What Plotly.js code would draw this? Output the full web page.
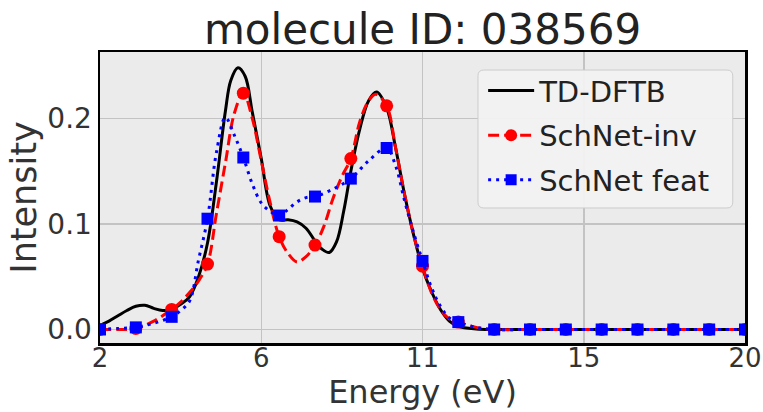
<!DOCTYPE html>
<html>
<head>
<meta charset="utf-8">
<script src="https://cdn.plot.ly/plotly-3.0.1.min.js"></script>
<style>
  html, body { margin: 0; padding: 0; background: #ffffff; }
  #chart { width: 763px; height: 412px; }
</style>
</head>
<body>
<div id="chart"></div>
<script>
// ---- Data ----
const titleText = "molecule ID: 038569";
const seriesNames = ["TD-DFTB", "SchNet-inv", "SchNet feat"];

// x tick positions and their printed labels
const xTickVals = [2, 6.5, 11, 15.5, 20];
const xTickText = ["2", "6", "11", "15", "20"];
const yTickVals = [0, 0.1, 0.2];
const yTickText = ["0.0", "0.1", "0.2"];

// TD-DFTB reference spectrum (smooth curve)
const tddftbX = [2.0, 2.25, 2.5, 2.75, 3.0, 3.25, 3.5, 3.75, 4.0, 4.25, 4.5, 4.75, 5.0, 5.25, 5.5, 5.65, 5.85, 6.05, 6.25, 6.5, 6.75, 7.0, 7.25, 7.5, 7.75, 8.0, 8.2, 8.4, 8.6, 8.8, 9.0, 9.25, 9.5, 9.72, 10.0, 10.25, 10.5, 10.75, 11.0, 11.25, 11.5, 11.75, 12.0, 12.5, 13, 14, 15, 16, 17, 18, 19, 20];
const tddftbY = [0.004, 0.008, 0.013, 0.018, 0.022, 0.023, 0.020, 0.018, 0.019, 0.024, 0.031, 0.050, 0.082, 0.140, 0.207, 0.236, 0.248, 0.240, 0.206, 0.162, 0.117, 0.104, 0.104, 0.102, 0.096, 0.084, 0.076, 0.073, 0.083, 0.112, 0.150, 0.190, 0.217, 0.225, 0.210, 0.172, 0.128, 0.090, 0.058, 0.036, 0.019, 0.008, 0.003, 0.0005, 0, 0, 0, 0, 0, 0, 0, 0];

// SchNet-inv prediction (dense curve; markers sit at whole eV)
const schnetInvX = [2.0, 2.5, 3.0, 3.5, 4.0, 4.25, 4.5, 4.75, 5.0, 5.25, 5.5, 5.75, 6.0, 6.25, 6.5, 6.75, 7.0, 7.25, 7.5, 7.75, 8.0, 8.25, 8.5, 8.75, 9.0, 9.25, 9.5, 9.7, 10.0, 10.25, 10.5, 10.75, 11.0, 11.25, 11.5, 11.75, 12.0, 12.5, 13, 14, 15, 16, 17, 18, 19, 20];
const schnetInvY = [0.0, 0.0, 0.001, 0.008, 0.019, 0.026, 0.035, 0.046, 0.062, 0.110, 0.158, 0.205, 0.224, 0.200, 0.160, 0.120, 0.088, 0.072, 0.064, 0.069, 0.080, 0.098, 0.124, 0.145, 0.162, 0.197, 0.217, 0.223, 0.212, 0.172, 0.128, 0.090, 0.060, 0.035, 0.019, 0.010, 0.007, 0.002, 0, 0, 0, 0, 0, 0, 0, 0];

// SchNet feat prediction (dense curve; markers sit at whole eV)
const schnetFeatX = [2.0, 2.5, 3.0, 3.5, 4.0, 4.25, 4.5, 4.75, 5.0, 5.25, 5.5, 5.75, 6.0, 6.25, 6.5, 6.75, 7.0, 7.25, 7.5, 7.75, 8.0, 8.5, 9.0, 9.5, 10.0, 10.25, 10.5, 10.75, 11.0, 11.25, 11.5, 11.75, 12.0, 12.5, 13, 14, 15, 16, 17, 18, 19, 20];
const schnetFeatY = [0.0, 0.001, 0.002, 0.006, 0.012, 0.018, 0.027, 0.066, 0.105, 0.168, 0.201, 0.184, 0.163, 0.138, 0.120, 0.112, 0.108, 0.114, 0.121, 0.125, 0.126, 0.133, 0.143, 0.160, 0.172, 0.155, 0.122, 0.092, 0.065, 0.040, 0.022, 0.011, 0.007, 0.002, 0, 0, 0, 0, 0, 0, 0, 0];

// ---- helpers ----
function wholePoints(xs, ys) {
  const mx = [], my = [];
  xs.forEach((x, i) => { if (Number.isInteger(x)) { mx.push(x); my.push(ys[i]); } });
  return { x: mx, y: my };
}
const invMarks = wholePoints(schnetInvX, schnetInvY);
const featMarks = wholePoints(schnetFeatX, schnetFeatY);

const FONT = "DejaVu Sans, sans-serif";
const RED = "#ff0000";
const BLUE = "#0000ff";
const redDash = "11px,5px";
const blueDot = "3px,5px";

const traces = [
  { x: tddftbX, y: tddftbY, name: seriesNames[0], mode: "lines", legendgroup: "g1",
    line: { color: "#000000", width: 3, shape: "spline", smoothing: 1 } },
  { x: schnetInvX, y: schnetInvY, mode: "lines", showlegend: false, hoverinfo: "skip",
    line: { color: RED, width: 3, dash: redDash, shape: "spline", smoothing: 1 } },
  { x: invMarks.x, y: invMarks.y, mode: "markers", showlegend: false,
    marker: { color: RED, size: 13, symbol: "circle" } },
  { x: [null], y: [null], name: seriesNames[1], mode: "lines+markers", legendgroup: "g2",
    line: { color: RED, width: 3, dash: redDash }, marker: { color: RED, size: 12, symbol: "circle" } },
  { x: schnetFeatX, y: schnetFeatY, mode: "lines", showlegend: false, hoverinfo: "skip",
    line: { color: BLUE, width: 3, dash: blueDot, shape: "spline", smoothing: 1 } },
  { x: featMarks.x, y: featMarks.y, mode: "markers", showlegend: false,
    marker: { color: BLUE, size: 12, symbol: "square" } },
  { x: [null], y: [null], name: seriesNames[2], mode: "lines+markers", legendgroup: "g3",
    line: { color: BLUE, width: 3, dash: blueDot }, marker: { color: BLUE, size: 11, symbol: "square" } }
];

// rounded legend frame, paper coordinates
function roundedRect(x0, y0, x1, y1, rx, ry) {
  return `M ${x0 + rx} ${y0} L ${x1 - rx} ${y0} Q ${x1} ${y0} ${x1} ${y0 + ry} ` +
         `L ${x1} ${y1 - ry} Q ${x1} ${y1} ${x1 - rx} ${y1} L ${x0 + rx} ${y1} ` +
         `Q ${x0} ${y1} ${x0} ${y1 - ry} L ${x0} ${y0 + ry} Q ${x0} ${y0} ${x0 + rx} ${y0} Z`;
}

const layout = {
  width: 763, height: 412,
  paper_bgcolor: "#ffffff",
  plot_bgcolor: "#ebebeb",
  margin: { l: 100, r: 18, t: 52, b: 69, pad: 0 },
  font: { family: FONT, color: "#333333", size: 28 },
  title: {
    text: titleText, font: { family: FONT, size: 42, color: "#222222" },
    x: 0.5, xref: "paper", xanchor: "center",
    y: 1, yref: "paper", yanchor: "bottom", pad: { b: 8 }
  },
  xaxis: {
    range: [2, 20], tickmode: "array", tickvals: xTickVals, ticktext: xTickText,
    showgrid: true, gridcolor: "#c3c3c3", gridwidth: 1.5, zeroline: false,
    showline: true, linecolor: "#000000", linewidth: 2.5, mirror: true,
    ticks: "", ticklabelstandoff: -10, tickfont: { family: FONT, size: 26, color: "#333333" },
    title: { text: "Energy (eV)", font: { family: FONT, size: 32, color: "#333333" }, standoff: 7 }
  },
  yaxis: {
    range: [-0.0128, 0.263], tickmode: "array", tickvals: yTickVals, ticktext: yTickText,
    showgrid: true, gridcolor: "#c3c3c3", gridwidth: 1.5, zeroline: false,
    showline: true, linecolor: "#000000", linewidth: 2.5, mirror: true,
    ticks: "", tickfont: { family: FONT, size: 28, color: "#333333" },
    title: { text: "Intensity", font: { family: FONT, size: 35, color: "#333333" }, standoff: 0 }
  },
  showlegend: true,
  legend: {
    x: 0.594, xanchor: "left", y: 0.955, yanchor: "top",
    traceorder: "grouped", tracegroupgap: 4, itemwidth: 46,
    bgcolor: "rgba(0,0,0,0)", borderwidth: 0,
    font: { family: FONT, size: 29, color: "#222222" }
  },
  shapes: [{
    type: "path", xref: "paper", yref: "paper", layer: "above",
    path: roundedRect(0.586, 0.938, 0.981, 0.464, 0.009, -0.02),
    fillcolor: "rgba(242,242,242,0.95)", line: { color: "#cccccc", width: 1 }
  }]
};

Plotly.newPlot("chart", traces, layout, { displayModeBar: false, staticPlot: true });
</script>
</body>
</html>
